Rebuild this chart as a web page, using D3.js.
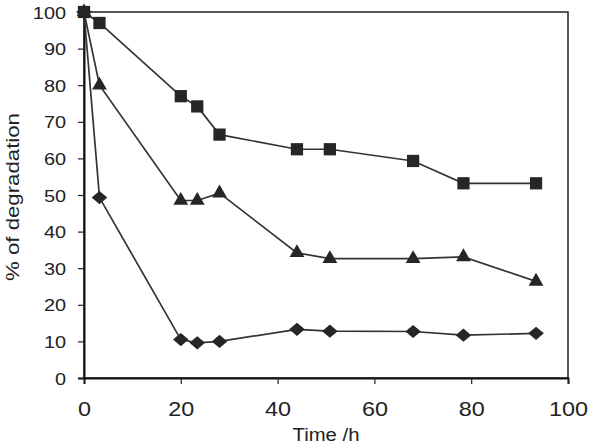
<!DOCTYPE html>
<html>
<head>
<meta charset="utf-8">
<script src="https://cdn.jsdelivr.net/npm/d3@7"></script>
<style>
  body { margin: 0; background: #fff; }
  text { font-family: "Liberation Sans", Arial, sans-serif; fill: #222; }
</style>
</head>
<body>
<svg></svg>
<script>
var width = 599,
    height = 445;

// time points (h)
var times = [0, 3.2, 20, 23.4, 28, 44, 50.8, 68, 78.4, 93.4];

// % of degradation for each series
var squareValues = [100, 97, 77, 74.2, 66.5, 62.5, 62.5, 59.3, 53.2, 53.2];
var triangleValues = [100, 80, 48.5, 48.5, 50.5, 34.2, 32.6, 32.6, 33.1, 26.4];
var diamondValues = [100, 49.3, 10.5, 9.6, 10, 13.3, 12.8, 12.7, 11.7, 12.2];

var xTicks = [0, 20, 40, 60, 80, 100];
var yTicks = [0, 10, 20, 30, 40, 50, 60, 70, 80, 90, 100];

var margin = {left: 84, right: 31, top: 12, bottom: 67};

// the text in the picture is a bit wider than Liberation Sans
var stretch = 1.17;

var x = d3.scaleLinear()
    .domain([0, 100])
    .range([margin.left, width - margin.right]);

var y = d3.scaleLinear()
    .domain([0, 100])
    .range([height - margin.bottom, margin.top]);

var svg = d3.select('svg')
    .attr('width', width)
    .attr('height', height);

// plot frame
svg.append('rect')
    .attr('x', x(0))
    .attr('y', y(100))
    .attr('width', x(100) - x(0))
    .attr('height', y(0) - y(100))
    .attr('fill', 'none')
    .attr('stroke', '#222')
    .attr('stroke-width', 1.5);

// axes
var xAxis = svg.append('g')
    .attr('transform', 'translate(0,' + y(0) + ')')
    .call(d3.axisBottom(x).tickValues(xTicks).tickSize(6).tickPadding(18));

var yAxis = svg.append('g')
    .attr('transform', 'translate(' + x(0) + ',0)')
    .call(d3.axisLeft(y).tickValues(yTicks).tickSize(6).tickPadding(12));

[xAxis, yAxis].forEach(function (a) {
    a.select('.domain').attr('stroke', '#111').attr('stroke-width', 2);
    a.selectAll('.tick line').attr('stroke', '#222').attr('stroke-width', 1.2);
    a.selectAll('.tick text')
        .style('font-family', '"Liberation Sans", Arial, sans-serif')
        .attr('fill', '#222');
});

xAxis.selectAll('.tick text')
    .style('font-size', '20px')
    .attr('transform', 'scale(' + stretch + ',1)');

yAxis.selectAll('.tick text')
    .style('font-size', '17px')
    .attr('x', -18 / stretch)
    .attr('dy', '0.36em')
    .attr('transform', 'scale(' + stretch + ',1)');

// axis titles
svg.append('text')
    .attr('transform', 'translate(' + (x(0) + x(100)) / 2 + ',441) scale(1.07,1)')
    .attr('text-anchor', 'middle')
    .style('font-size', '19px')
    .text('Time /h');

svg.append('text')
    .attr('transform', 'translate(19,' + 197 + ') rotate(-90) scale(' + stretch + ',1)')
    .attr('text-anchor', 'middle')
    .style('font-size', '19px')
    .text('% of degradation');

var line = d3.line()
    .x(function (d) { return x(d[0]); })
    .y(function (d) { return y(d[1]); });

// wide diamond marker
var wideDiamond = {
    draw: function (context, size) {
        var w = Math.sqrt(size) * 0.78, h = Math.sqrt(size) * 0.66;
        context.moveTo(0, -h);
        context.lineTo(w, 0);
        context.lineTo(0, h);
        context.lineTo(-w, 0);
        context.closePath();
    }
};

var series = [
    {values: diamondValues, symbol: wideDiamond, size: 100},
    {values: triangleValues, symbol: d3.symbolTriangle, size: 95},
    {values: squareValues, symbol: d3.symbolSquare, size: 150}
];

series.forEach(function (s) {
    var pts = times.map(function (t, i) { return [t, s.values[i]]; });

    svg.append('path')
        .datum(pts)
        .attr('d', line)
        .attr('fill', 'none')
        .attr('stroke', '#333')
        .attr('stroke-width', 1.7);

    svg.append('g').selectAll('path')
        .data(pts)
        .enter().append('path')
        .attr('transform', function (d) {
            return 'translate(' + x(d[0]) + ',' + y(d[1]) + ')';
        })
        .attr('d', d3.symbol().type(s.symbol).size(s.size))
        .attr('fill', '#262626');
});
</script>
</body>
</html>
